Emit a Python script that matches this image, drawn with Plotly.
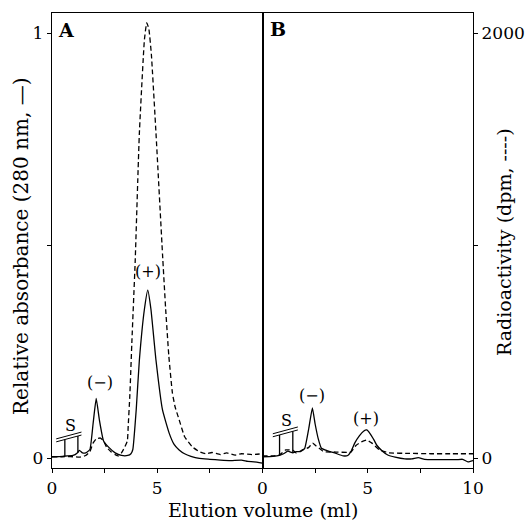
import plotly.graph_objects as go

# ---------------- data ----------------
# Panel A : absorbance (relative, solid) and radioactivity (dpm, dashed)
a_abs_x = [0, 0.5, 1.0, 1.2, 1.3, 1.45, 1.6, 1.8, 1.95, 2.1, 2.25, 2.45, 2.7, 3.0, 3.3,
           3.6, 3.75, 3.84, 4.0, 4.15, 4.39, 4.55, 4.7, 4.94, 5.25, 5.57, 5.8, 6.04, 6.3,
           6.6, 7.0, 7.5, 8.0, 8.5, 9.0, 9.3, 9.6, 10.0]
a_abs_y = [0.003, 0.004, 0.006, 0.012, 0.018, 0.012, 0.012, 0.02, 0.08, 0.14, 0.09, 0.04,
           0.025, 0.012, 0.006, 0.006, 0.01, 0.02, 0.113, 0.23, 0.35, 0.395, 0.35, 0.23,
           0.113, 0.058, 0.032, 0.019, 0.01, 0.004, -0.001, -0.003, -0.005, -0.006,
           -0.005, -0.008, -0.009, -0.012]

a_dpm_x = [0, 0.5, 1.0, 1.3, 1.6, 1.8, 1.95, 2.1, 2.3, 2.45, 2.6, 2.8, 3.0, 3.15, 3.3,
           3.45, 3.58, 3.62, 3.7, 3.8, 3.95, 4.15, 4.39, 4.5, 4.6, 4.72, 4.94, 5.25, 5.4,
           5.55, 5.72, 5.85, 6.04, 6.3, 6.67, 7.0, 7.3, 7.6, 8.0, 8.3, 8.7, 9.0, 9.5, 10.0]
a_dpm_y = [6, 6, 6, 4, 12, 30, 70, 90, 94, 80, 50, 30, 16, 10, 24, 50, 80, 150, 300, 560,
           920, 1528, 1968, 2048, 2020, 1900, 1528, 960, 700, 480, 306, 240, 180, 100,
           52, 30, 20, 26, 16, 24, 14, 20, 16, 20]

# Panel B
b_abs_x = [0, 0.5, 0.8, 1.0, 1.2, 1.44, 1.6, 1.8, 2.0, 2.2, 2.37, 2.5, 2.65, 2.8, 3.1,
           3.43, 3.83, 4.05, 4.2, 4.38, 4.6, 4.8, 4.95, 5.1, 5.3, 5.43, 5.7, 5.95, 6.3,
           6.76, 7.1, 7.4, 7.7, 8.2, 8.7, 9.2, 9.5, 9.76, 10.0]
b_abs_y = [0.003, 0.004, 0.006, 0.01, 0.016, 0.012, 0.015, 0.015, 0.022, 0.07, 0.118,
           0.08, 0.045, 0.023, 0.017, 0.012, 0.005, 0.006, 0.015, 0.035, 0.052, 0.063,
           0.066, 0.058, 0.042, 0.03, 0.016, 0.007, 0.002, -0.002, -0.002, 0.001, -0.003,
           -0.004, -0.004, -0.004, -0.003, -0.009, -0.006]

b_dpm_x = [0, 0.5, 0.8, 1.1, 1.45, 1.6, 1.9, 2.2, 2.38, 2.55, 2.8, 2.9, 3.5, 4.2, 4.45,
           4.7, 4.95, 5.2, 5.56, 6.0, 7.0, 8.0, 9.0, 10.0]
b_dpm_y = [10, 10, 14, 38, 36, 24, 38, 50, 70, 56, 38, 30, 28, 28, 60, 76, 84, 70, 38,
           24, 22, 20, 20, 20]

x_tick_vals = [0, 2.5, 5, 7.5, 10]
a_x_tick_text = ["0", "", "5", "", ""]
b_x_tick_text = ["0", "", "5", "", "10"]
abs_tick_vals = [0, 0.5, 1]
abs_tick_text = ["0", "", "1"]
dpm_tick_vals = [0, 1000, 2000]
dpm_tick_text = ["0", "", "2000"]

# ---------------- layout geometry ----------------
W, H = 525, 521
ML, MR, MT, MB = 52, 52, 13, 53
plot_w = W - ML - MR
plot_h = H - MT - MB
abs_lo, abs_hi = -10 / 425, 1 + 20 / 425
DPM_SCALE = 2000

FONT = "DejaVu Serif"
LW = 1.3

fig = go.Figure()
solid = dict(color="black", width=LW, shape="spline", smoothing=0.4)
dashed = dict(color="black", width=LW, dash="5px,3px", shape="spline", smoothing=0.4)
fig.add_trace(go.Scatter(x=a_abs_x, y=a_abs_y, mode="lines", line=solid, xaxis="x", yaxis="y"))
fig.add_trace(go.Scatter(x=a_dpm_x, y=a_dpm_y, mode="lines", line=dashed, xaxis="x", yaxis="y2"))
fig.add_trace(go.Scatter(x=b_abs_x, y=b_abs_y, mode="lines", line=solid, xaxis="x2", yaxis="y"))
fig.add_trace(go.Scatter(x=b_dpm_x, y=b_dpm_y, mode="lines", line=dashed, xaxis="x2", yaxis="y2"))

axis_common = dict(showline=True, linecolor="black", linewidth=LW, mirror=True,
                   ticks="outside", ticklen=4, tickwidth=LW, tickcolor="black",
                   showgrid=False, zeroline=False, automargin=False,
                   tickfont=dict(family=FONT, size=17, color="black"))

fig.update_layout(
    width=W, height=H,
    margin=dict(l=ML, r=MR, t=MT, b=MB, autoexpand=False),
    paper_bgcolor="white", plot_bgcolor="white",
    showlegend=False,
    font=dict(family=FONT, color="black"),
    xaxis=dict(domain=[0, 0.5], range=[0, 10], anchor="y", tickmode="array",
               tickvals=x_tick_vals, ticktext=a_x_tick_text, **axis_common),
    xaxis2=dict(domain=[0.5, 1], range=[0, 10], anchor="y", tickmode="array",
                tickvals=x_tick_vals, ticktext=b_x_tick_text, **axis_common),
    yaxis=dict(range=[abs_lo, abs_hi], anchor="x", tickmode="array",
               tickvals=abs_tick_vals, ticktext=abs_tick_text, **axis_common),
    yaxis2=dict(range=[abs_lo * DPM_SCALE, abs_hi * DPM_SCALE], overlaying="y",
                side="right", anchor="x2", tickmode="array",
                tickvals=dpm_tick_vals, ticktext=dpm_tick_text, **axis_common),
)

def px_x(p):
    return (p - ML) / plot_w

def px_y(p):
    return (H - MB - p) / plot_h

ann = []
txt = dict(family=FONT, size=19, color="black")
ann.append(dict(text="Elution volume (ml)", x=0.5, y=px_y(510), xref="paper", yref="paper",
                showarrow=False, font=txt, xanchor="center", yanchor="middle"))
ann.append(dict(text="Relative absorbance (280 nm, \u2014)", x=px_x(21), y=px_y(247),
                xref="paper", yref="paper", showarrow=False, font=dict(family=FONT, size=20, color="black"),
                textangle=-90, xanchor="center", yanchor="middle"))
ann.append(dict(text="Radioactivity (dpm, ----)", x=px_x(504), y=px_y(242),
                xref="paper", yref="paper", showarrow=False, font=txt, textangle=-90,
                xanchor="center", yanchor="middle"))
bold = dict(family=FONT, size=19, color="black")
ann.append(dict(text="<b>A</b>", x=px_x(66), y=px_y(30), xref="paper", yref="paper",
                showarrow=False, font=bold, xanchor="center", yanchor="middle"))
ann.append(dict(text="<b>B</b>", x=px_x(278), y=px_y(29), xref="paper", yref="paper",
                showarrow=False, font=bold, xanchor="center", yanchor="middle"))

lab = dict(family=FONT, size=16, color="black")
for xa, xv, yv, t in [("x", 2.3, 0.178, "(\u2212)"), ("x", 4.55, 0.44, "(+)"),
                      ("x2", 2.35, 0.148, "(\u2212)"), ("x2", 4.94, 0.094, "(+)"),
                      ("x", 0.88, 0.076, "S"), ("x2", 1.14, 0.088, "S")]:
    ann.append(dict(text=t, x=xv, y=yv, xref=xa, yref="y", showarrow=False, font=lab,
                    xanchor="center", yanchor="middle"))
fig.update_layout(annotations=ann)

# S brackets: double slanted line with two drop lines
shapes = []
def bracket(xref, x0, y0, x1, y1, drops):
    gap = 0.007
    for g in (0, gap):
        shapes.append(dict(type="line", xref=xref, yref="y", x0=x0, y0=y0 + g, x1=x1, y1=y1 + g,
                           line=dict(color="black", width=1)))
    for xd, yb in drops:
        yt = y0 + (y1 - y0) * (xd - x0) / (x1 - x0)
        shapes.append(dict(type="line", xref=xref, yref="y", x0=xd, y0=yt, x1=xd, y1=yb,
                           line=dict(color="black", width=LW)))

bracket("x", 0.2, 0.038, 1.4, 0.054, [(0.61, 0.004), (1.23, 0.012)])
bracket("x2", 0.49, 0.05, 1.68, 0.066, [(0.81, 0.006), (1.44, 0.012)])
fig.update_layout(shapes=shapes)

fig.write_html("out.html")
